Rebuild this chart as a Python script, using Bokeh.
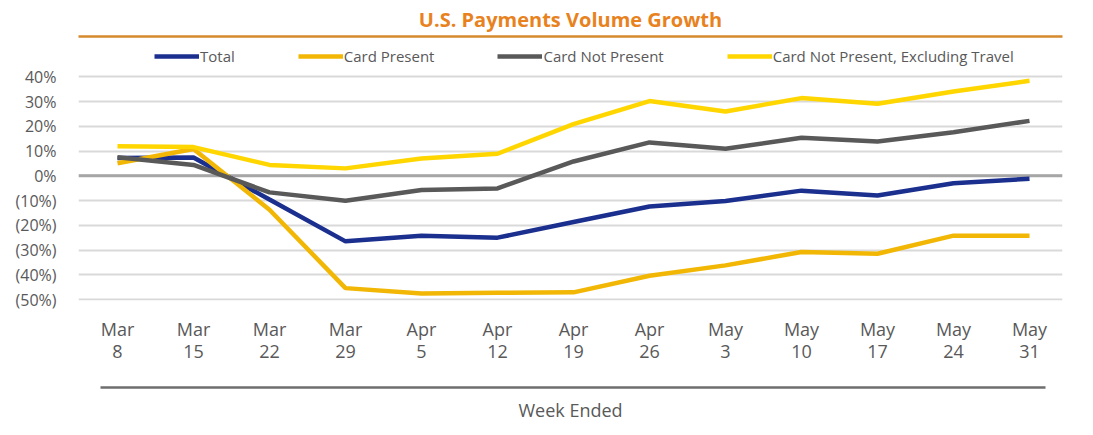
from bokeh.plotting import figure
from bokeh.models import Range1d, FixedTicker, LinearAxis, Legend, LegendItem, Span, Title
from bokeh.embed import file_html
from bokeh.resources import INLINE

# ---- data ----
weeks = ["Mar 8", "Mar 15", "Mar 22", "Mar 29", "Apr 5", "Apr 12", "Apr 19",
         "Apr 26", "May 3", "May 10", "May 17", "May 24", "May 31"]
total = [7.2, 7.4, -9.6, -26.5, -24.2, -25.0, -18.7, -12.4, -10.2, -6.0, -8.0, -3.0, -1.2]
card_present = [5.1, 10.8, -13.7, -45.4, -47.6, -47.3, -47.1, -40.4, -36.2, -30.8, -31.5, -24.2, -24.2]
card_not_present = [7.5, 4.4, -6.7, -10.1, -5.7, -5.1, 5.8, 13.5, 10.9, 15.4, 13.9, 17.6, 22.2]
cnp_ex_travel = [11.9, 11.6, 4.4, 3.0, 7.0, 8.9, 20.9, 30.2, 26.0, 31.4, 29.1, 34.1, 38.4]
series_names = ["Total", "Card Present", "Card Not Present", "Card Not Present, Excluding Travel"]
y_ticks = [-50, -40, -30, -20, -10, 0, 10, 20, 30, 40]
title_text = "U.S. Payments Volume Growth"
x_title = "Week Ended"

FONT = "Open Sans"
GREY_TXT = "#595959"
colors = ["#1B2F8F", "#F2B705", "#595959", "#FFD600"]

x = list(range(len(weeks)))
p = figure(width=1077, height=426, x_range=Range1d(-0.513, 12.434), y_range=Range1d(-50.4, 56.3),
           output_backend="svg", toolbar_location=None,
           min_border_left=78, min_border_right=15, min_border_top=34, min_border_bottom=126)
p.outline_line_color = None

# title
p.title = Title(text=title_text, align="center", offset=-31, standoff=7,
                text_font=FONT, text_font_size="20px", text_font_style="bold",
                text_color="#E8821E")

p.xgrid.visible = False
p.ygrid.ticker = FixedTicker(ticks=y_ticks)
p.ygrid.grid_line_color = "#D9D9D9"
p.ygrid.grid_line_width = 2

zero = Span(location=0, dimension="width", line_color="#A6A6A6", line_width=3, level="underlay")
p.add_layout(zero)

renderers = []
for ys, c in zip([total, card_present, card_not_present, cnp_ex_travel], colors):
    r = p.line(x, ys, line_color=c, line_width=4.5)
    renderers.append(r)

# y axis
ya = p.yaxis[0]
ya.ticker = FixedTicker(ticks=y_ticks)
ya.major_label_overrides = {t: (f"{t}%" if t >= 0 else f"({-t}%)") for t in y_ticks}
ya.axis_line_color = None
ya.major_tick_line_color = None
ya.minor_tick_line_color = None
ya.major_label_standoff = 16
ya.major_label_text_font = FONT
ya.major_label_text_font_size = "16px"
ya.major_label_text_color = GREY_TXT

# x axis (tick labels)
xa = p.xaxis[0]
xa.ticker = FixedTicker(ticks=x)
xa.major_label_overrides = {i: w.replace(" ", "\n") for i, w in enumerate(weeks)}
xa.axis_line_color = None
xa.major_tick_line_color = None
xa.minor_tick_line_color = None
xa.major_label_standoff = 10
xa.major_label_text_font = FONT
xa.major_label_text_font_size = "18px"
xa.major_label_text_line_height = 0.92
xa.major_label_text_color = GREY_TXT
xa.axis_label = " "
xa.axis_label_text_font_size = "16px"
xa.axis_label_standoff = 2

# second axis: grey rule + axis title
ax2 = LinearAxis(ticker=FixedTicker(ticks=[]), axis_line_color="#6E6E6E", axis_line_width=2.5,
                 bounds=(-0.224, 12.21), major_tick_line_color=None, minor_tick_line_color=None,
                 major_tick_out=0, major_label_standoff=0,
                 axis_label=x_title, axis_label_standoff=10, axis_label_text_font=FONT,
                 axis_label_text_font_size="18px", axis_label_text_font_style="normal",
                 axis_label_text_color=GREY_TXT)
p.add_layout(ax2, "below")

# orange rule under the title (line of an empty axis, extended by bounds)
rule_axis = LinearAxis(ticker=FixedTicker(ticks=[]), axis_line_color="#D68A2E", axis_line_width=2.5,
                       bounds=(-1.487, 12.566), major_tick_line_color=None, minor_tick_line_color=None,
                       major_tick_out=0, major_tick_in=0, minor_tick_out=0, minor_tick_in=0)
p.add_layout(rule_axis, "above")

legend = Legend(items=[LegendItem(label=n, renderers=[r]) for n, r in zip(series_names, renderers)],
                orientation="horizontal", location=(76, 234), spacing=63, glyph_width=45,
                glyph_height=20, label_height=20, label_standoff=1, padding=0, margin=0,
                border_line_color=None, background_fill_alpha=0,
                label_text_font=FONT, label_text_font_size="15px", label_text_color=GREY_TXT)
p.add_layout(legend)

open("out.html", "w").write(file_html(p, INLINE))
